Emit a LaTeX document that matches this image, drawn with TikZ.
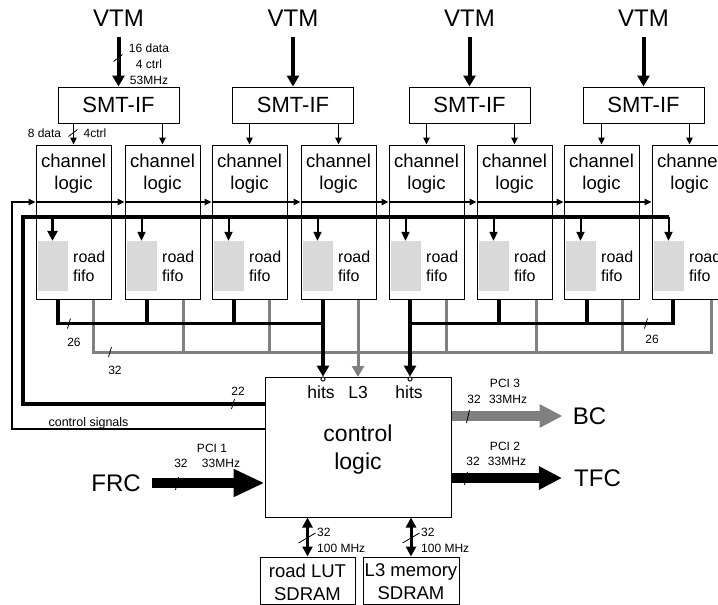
\documentclass[tikz,border=0pt]{standalone}
\usepackage{fontspec}
\setmainfont{Liberation Sans}
\usetikzlibrary{arrows.meta}
\definecolor{busgray}{RGB}{128,128,128}
\definecolor{fifogray}{RGB}{217,217,217}
\begin{document}
\begin{tikzpicture}[x=1pt,y=-1pt,
  box/.style={draw, line width=1pt, inner sep=0pt},
  txt/.style={inner sep=0pt, align=center},
  fbig/.style={font=\fontsize{24}{28}\selectfont},
  fsmt/.style={font=\fontsize{22}{26}\selectfont},
  fcl/.style={font=\fontsize{18.5}{22}\selectfont},
  fff/.style={font=\fontsize{16}{19}\selectfont},
  fctl/.style={font=\fontsize{23}{28}\selectfont},
  fhit/.style={font=\fontsize{17.5}{20}\selectfont},
  fmem/.style={font=\fontsize{18.5}{23}\selectfont},
  fsmall/.style={font=\fontsize{12}{16}\selectfont},
  fifo/.style={fill=fifogray, inner sep=0pt, minimum width=30pt, minimum height=50pt},
  vtmarr/.style={line width=4pt, -{Triangle[width=12pt,length=11pt]}},
  smarr/.style={line width=1.2pt, -{Triangle[width=6.5pt,length=7pt]}},
  sigarr/.style={line width=1.5pt, -{Triangle[width=6.5pt,length=7pt]}},
  bus22/.style={line width=3.5pt},
  ffarr/.style={line width=2pt, -{Triangle[width=8pt,length=9pt]}},
  ffarrT/.style={line width=3.5pt, -{Triangle[width=10pt,length=10pt]}},
  obus/.style={line width=3.2pt},
  gbus/.style={line width=3pt, draw=busgray},
  hitarr/.style={line width=3.5pt, -{Triangle[width=12pt,length=11pt]}},
  garr/.style={line width=3pt, draw=busgray, -{Triangle[width=12pt,length=11pt]}},
  hcirc/.style={circle, draw, fill=white, line width=0.8pt, inner sep=0pt, minimum size=4pt},
  bcarr/.style={line width=9.5pt, draw=busgray, -{Triangle[width=22pt,length=23pt]}},
  tfcarr/.style={line width=10pt, -{Triangle[width=22pt,length=23pt]}},
  frcarr/.style={line width=10pt, -{Triangle[width=26pt,length=31pt]}},
  dblarr/.style={line width=3pt, {Triangle[width=10pt,length=10pt]}-{Triangle[width=10pt,length=10pt]}},
  slh/.style={line width=0.8pt}
]
\useasboundingbox (0,0) rectangle (718,605);
\clip (0,0) rectangle (718,605);

% channel logic boxes with road fifos
\foreach \i/\x in {1/73.5,2/162.5,3/249.5,4/338.5,5/426.5,6/514.5,7/601.5,8/689.5}{
  \node[box, minimum width=75pt, minimum height=154pt] (cl\i) at (\x,222) {};
  \node[txt, fcl] (clt\i) at (\x,174) {channel\\logic};
  \node[fifo] (ff\i) at (\x-21,266) {};
  \node[txt, fff, anchor=west, align=left] (ft\i) at (\x-0.5,266.5) {road\\fifo};
}

% SMT-IF and VTM
\foreach \i/\x in {1/118.5,2/293,3/469.5,4/643.5}{
  \node[box, minimum width=121pt, minimum height=36pt, fsmt] (s\i) at (\x,105) {SMT-IF};
  \node[txt, fbig] (v\i) at (\x,18.5) {VTM};
  \draw[vtmarr, shorten <=10pt] (v\i.south) -- (s\i.north);
}
\foreach \i/\s in {1/1,2/1,3/2,4/2,5/3,6/3,7/4,8/4}
  \draw[smarr] (cl\i.north |- s\s.south) -- (cl\i.north);

% labels on first VTM link
\node[txt, fsmall] (lvtm) at (149,64) {16 data\\4 ctrl\\53MHz};
\draw[slh] (113.5,61.5) -- (122.5,54.5);
\node[txt, fsmall] (l8d) at (44.5,133) {8 data};
\node[txt, fsmall] (l4c) at (95,133) {4ctrl};
\draw[slh] (68.5,136.5) -- (77.5,129.5);

% control logic
\node[box, minimum width=186pt, minimum height=140pt] (ctrl) at (358,447) {};
\node[txt, fctl] (ctrlt) at (358,450) {control\\logic};
\node[txt, fhit] (hits1) at (321,392) {hits};
\node[txt, fhit] (l3) at (358,392) {L3};
\node[txt, fhit] (hits2) at (409,392) {hits};

% control signals chain
\coordinate (csa) at (12,429);
\coordinate (csb) at (12,202);
\draw[sigarr] (ctrl.west |- csa) -- (csa) -- (csb) -- (cl1.west |- csb);
\foreach \i/\j in {1/2,2/3,3/4,4/5,5/6,6/7,7/8}
  \draw[sigarr] (cl\i.west |- csb) -- (cl\j.west |- csb);
\node[txt, font=\fontsize{12.5}{15}\selectfont] (lcs) at (88.5,423) {control signals};

% 22-bit bus to road fifos
\coordinate (fba) at (23,404);
\coordinate (fbb) at (23,217);
\draw[bus22] (ctrl.west |- fba) -- (fba) -- (fbb) -- (ff8.north |- fbb);
\draw[ffarrT] (ff1.north |- fbb) -- (ff1.north);
\foreach \i in {2,...,8}
  \draw[ffarr] (ff\i.north |- fbb) -- (ff\i.north);
\node[txt, fsmall] (l22) at (238,391) {22};
\draw[slh] (231.5,409) -- (234.5,399);

% gray 32-bit bus
\coordinate (gl) at (93,352);
\coordinate (gr) at (711,352);
\draw[gbus] ([xshift=19.5pt]cl1.south) -- (gl) -- (gr) -- ([xshift=21.5pt]cl8.south);
\foreach \i/\o in {2/20.5,3/19.5,5/19.5,6/21.5,7/20.5}
  \draw[gbus] ([xshift=\o pt]cl\i.south) -- ++(0,52.5);
\draw[garr] ([xshift=19.5pt]cl4.south) -- ++(0,77.5);
\node[txt, fsmall] (l32) at (115,370) {32};
\draw[slh] (108.5,357) -- (111.5,347);

% black hit buses
\coordinate (bl) at (323,323.5);
\coordinate (br) at (410,323.5);
\draw[obus] ([xshift=-15.5pt]cl1.south) |- (bl);
\draw[obus] ([xshift=-15.5pt]cl2.south) -- ++(0,24.5);
\draw[obus] ([xshift=-15.5pt]cl3.south) -- ++(0,24.5);
\draw[obus] ([xshift=-16.5pt]cl8.south) |- (br);
\draw[obus] ([xshift=-15.5pt]cl6.south) -- ++(0,24.5);
\draw[obus] ([xshift=-14.5pt]cl7.south) -- ++(0,24.5);
\node[hcirc] (hc1) at (323,379) {};
\node[hcirc] (hc2) at (410,379) {};
\draw[hitarr] ([xshift=-15.5pt]cl4.south) -- (hc1.north);
\draw[hitarr] ([xshift=-16.5pt]cl5.south) -- (hc2.north);
\node[hcirc] at (hc1) {};
\node[hcirc] at (hc2) {};
\node[txt, fsmall] (l26a) at (74,342) {26};
\draw[slh] (67.5,328.5) -- (70.5,318.5);
\node[txt, fsmall] (l26b) at (652,339) {26};
\draw[slh] (644.5,328.5) -- (647.5,318.5);

% outputs BC / TFC
\node[txt, fbig] (bc) at (589.5,416) {BC};
\draw[bcarr] (ctrl.east |- bc) -- ([xshift=-10pt]bc.west);
\draw[slh] (466.5,423) -- (469.5,410);
\node[txt, fsmall] (pci3) at (505,383) {PCI 3};
\node[txt, fsmall] (pci3a) at (474,399) {32};
\node[txt, fsmall] (pci3b) at (508,399) {33MHz};

\node[txt, fbig] (tfc) at (597.5,478) {TFC};
\draw[tfcarr] (ctrl.east |- tfc) -- ([xshift=-12pt]tfc.west);
\draw[slh] (464.5,485) -- (467.5,472);
\node[txt, fsmall] (pci2) at (505,446) {PCI 2};
\node[txt, fsmall] (pci2a) at (473,461) {32};
\node[txt, fsmall] (pci2b) at (507,461) {33MHz};

% input FRC
\node[txt, fbig] (frc) at (116,483) {FRC};
\draw[frcarr] ([xshift=11pt]frc.east) -- (ctrl.west |- frc);
\draw[slh] (175.5,490) -- (178.5,477);
\node[txt, fsmall] (pci1) at (212,448) {PCI 1};
\node[txt, fsmall] (pci1a) at (181,463) {32};
\node[txt, fsmall] (pci1b) at (221,463) {33MHz};

% memories
\node[box, minimum width=95pt, minimum height=47pt] (m1) at (307.5,580.5) {};
\node[txt, fmem] (m1t) at (307.5,582) {road LUT\\SDRAM};
\node[box, minimum width=96pt, minimum height=47pt] (m2) at (411,580.5) {};
\node[txt, fmem] (m2t) at (411,582) {L3 memory\\SDRAM};
\draw[dblarr] (m1.north |- ctrl.south) -- (m1.north);
\draw[dblarr] (m2.north |- ctrl.south) -- (m2.north);
\draw[slh] (298.5,543) -- (315.5,533);
\draw[slh] (402.5,543) -- (419.5,533);
\node[txt, fsmall, anchor=west] (m1a) at (317,532) {32};
\node[txt, fsmall, anchor=west] (m1b) at (317,548) {100 MHz};
\node[txt, fsmall, anchor=west] (m2a) at (421,532) {32};
\node[txt, fsmall, anchor=west] (m2b) at (421,548) {100 MHz};
\end{tikzpicture}
\end{document}
